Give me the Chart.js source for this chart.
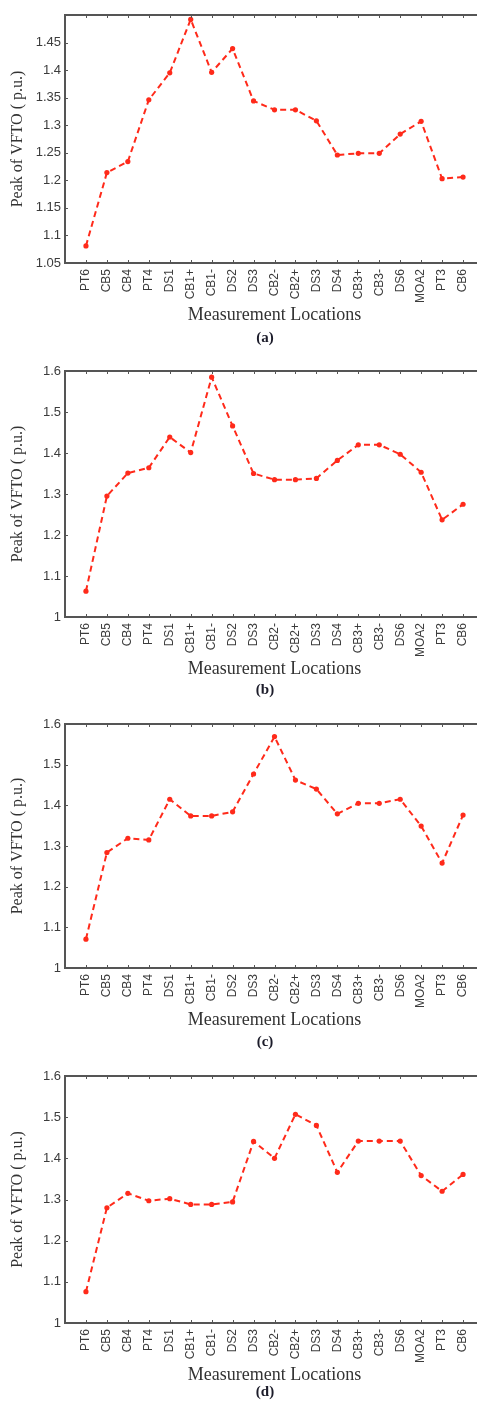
<!DOCTYPE html>
<html>
<head>
<meta charset="utf-8">
<script src="https://cdn.jsdelivr.net/npm/chart.js@4.4.0/dist/chart.umd.min.js"></script>
<style>
    html, body { margin: 0; padding: 0; background: #fff; overflow: hidden; width: 477px; height: 1401px; }
    canvas { position: absolute; left: 0; }
    .cap { position: absolute; left: 0; width: 530px; text-align: center; font: bold 15px "Liberation Serif", serif; color: #1c1c2a; }
</style>
</head>
<body>
<canvas id="chartA" width="490" height="343" style="top:0px"></canvas>
<div class="cap" style="top:329px">(a)</div>
<canvas id="chartB" width="490" height="341" style="top:356px"></canvas>
<div class="cap" style="top:681px">(b)</div>
<canvas id="chartC" width="490" height="339" style="top:709px"></canvas>
<div class="cap" style="top:1033px">(c)</div>
<canvas id="chartD" width="490" height="342" style="top:1061px"></canvas>
<div class="cap" style="top:1383px">(d)</div>

<script>
// Measurement locations along the x axis (same for all four panels)
const locations = ['PT6', 'CB5', 'CB4', 'PT4', 'DS1', 'CB1+', 'CB1-', 'DS2', 'DS3', 'CB2-',
    'CB2+', 'DS3', 'DS4', 'CB3+', 'CB3-', 'DS6', 'MOA2', 'PT3', 'CB6'];

// Peak of VFTO (p.u.)
const peakA = [1.081, 1.214, 1.234, 1.346, 1.395, 1.492, 1.396, 1.439, 1.344, 1.328,
    1.328, 1.308, 1.246, 1.249, 1.249, 1.284, 1.307, 1.203, 1.206];
const peakB = [1.063, 1.295, 1.351, 1.364, 1.439, 1.401, 1.585, 1.466, 1.350, 1.335,
    1.335, 1.338, 1.382, 1.420, 1.420, 1.397, 1.353, 1.237, 1.275];
const peakC = [1.071, 1.284, 1.319, 1.315, 1.415, 1.374, 1.374, 1.384, 1.477, 1.569,
    1.462, 1.440, 1.379, 1.405, 1.405, 1.415, 1.349, 1.258, 1.376];
const peakD = [1.076, 1.280, 1.315, 1.297, 1.302, 1.288, 1.288, 1.294, 1.441, 1.400,
    1.507, 1.480, 1.366, 1.442, 1.442, 1.442, 1.358, 1.320, 1.361];

// y axis ranges: [min, max, step]
const yRangeA = [1.05, 1.5, 0.05];
const yRangeB = [1, 1.6, 0.1];

const lineRed = '#ff2a1a';
const tickColor = '#3c3c3c';

// Box around the plot with MATLAB-style inward ticks on all sides
const framePlugin = {
    id: 'frame',
    afterDatasetsDraw(chart) {
        const { ctx, chartArea: a, scales: { x, y } } = chart;
        ctx.save();
        ctx.strokeStyle = '#555';
        ctx.lineWidth = 1;
        ctx.beginPath();
        x.ticks.forEach(t => {
            if (t.value <= x.min || t.value >= x.max) return;
            const px = Math.round(x.getPixelForValue(t.value)) + 0.5;
            ctx.moveTo(px, a.bottom); ctx.lineTo(px, a.bottom - 3);
            ctx.moveTo(px, a.top); ctx.lineTo(px, a.top + 3);
        });
        y.ticks.forEach(t => {
            const py = Math.round(y.getPixelForValue(t.value)) + 0.5;
            ctx.moveTo(a.left, py); ctx.lineTo(a.left + 3, py);
            ctx.moveTo(a.right, py); ctx.lineTo(a.right - 3, py);
        });
        ctx.stroke();
        ctx.lineWidth = 2;
        ctx.strokeRect(a.left, a.top, a.right - a.left, a.bottom - a.top);
        ctx.restore();
    }
};

function makeChart(id, values, range, hideTop) {
    const ctx = document.getElementById(id).getContext('2d');
    return new Chart(ctx, {
        type: 'line',
        data: {
            datasets: [{
                data: values.map((v, i) => ({ x: i + 1, y: v })),
                borderColor: lineRed,
                borderWidth: 2,
                borderDash: [6, 4],
                pointRadius: 2.6,
                pointBackgroundColor: lineRed,
                pointBorderWidth: 0,
                tension: 0
            }]
        },
        options: {
            responsive: false,
            animation: false,
            layout: { padding: { top: 15, right: 6, left: 0, bottom: 0 } },
            plugins: { legend: { display: false }, tooltip: { enabled: false } },
            scales: {
                x: {
                    type: 'linear',
                    min: 0,
                    max: locations.length + 1,
                    grid: { display: false, drawTicks: false },
                    border: { display: false },
                    ticks: {
                        stepSize: 1,
                        autoSkip: false,
                        maxRotation: 90,
                        minRotation: 90,
                        padding: 6,
                        color: tickColor,
                        font: { family: 'Liberation Sans', size: 12 },
                        callback: v => locations[v - 1] || ''
                    },
                    title: {
                        display: true,
                        text: 'Measurement Locations',
                        color: '#333',
                        font: { family: 'Liberation Serif', size: 18 },
                        padding: { top: 0, bottom: 17 }
                    },
                    afterFit: s => { s.height = 80; s.paddingRight = 0; }
                },
                y: {
                    min: range[0],
                    max: range[1],
                    grid: { display: false, drawTicks: false },
                    border: { display: false },
                    ticks: {
                        stepSize: range[2],
                        padding: 4,
                        color: tickColor,
                        font: { family: 'Liberation Sans', size: 13 },
                        callback: v => (hideTop && Math.abs(v - range[1]) < 1e-6) ? '' : String(+v.toFixed(2))
                    },
                    title: {
                        display: true,
                        text: 'Peak of VFTO ( p.u.)',
                        color: '#333',
                        font: { family: 'Liberation Serif', size: 16 },
                        padding: { top: 8, bottom: 0 }
                    },
                    afterFit: s => { s.width = 65; }
                }
            }
        },
        plugins: [framePlugin]
    });
}

makeChart('chartA', peakA, yRangeA, true);
makeChart('chartB', peakB, yRangeB, false);
makeChart('chartC', peakC, yRangeB, false);
makeChart('chartD', peakD, yRangeB, false);
</script>
</body>
</html>
